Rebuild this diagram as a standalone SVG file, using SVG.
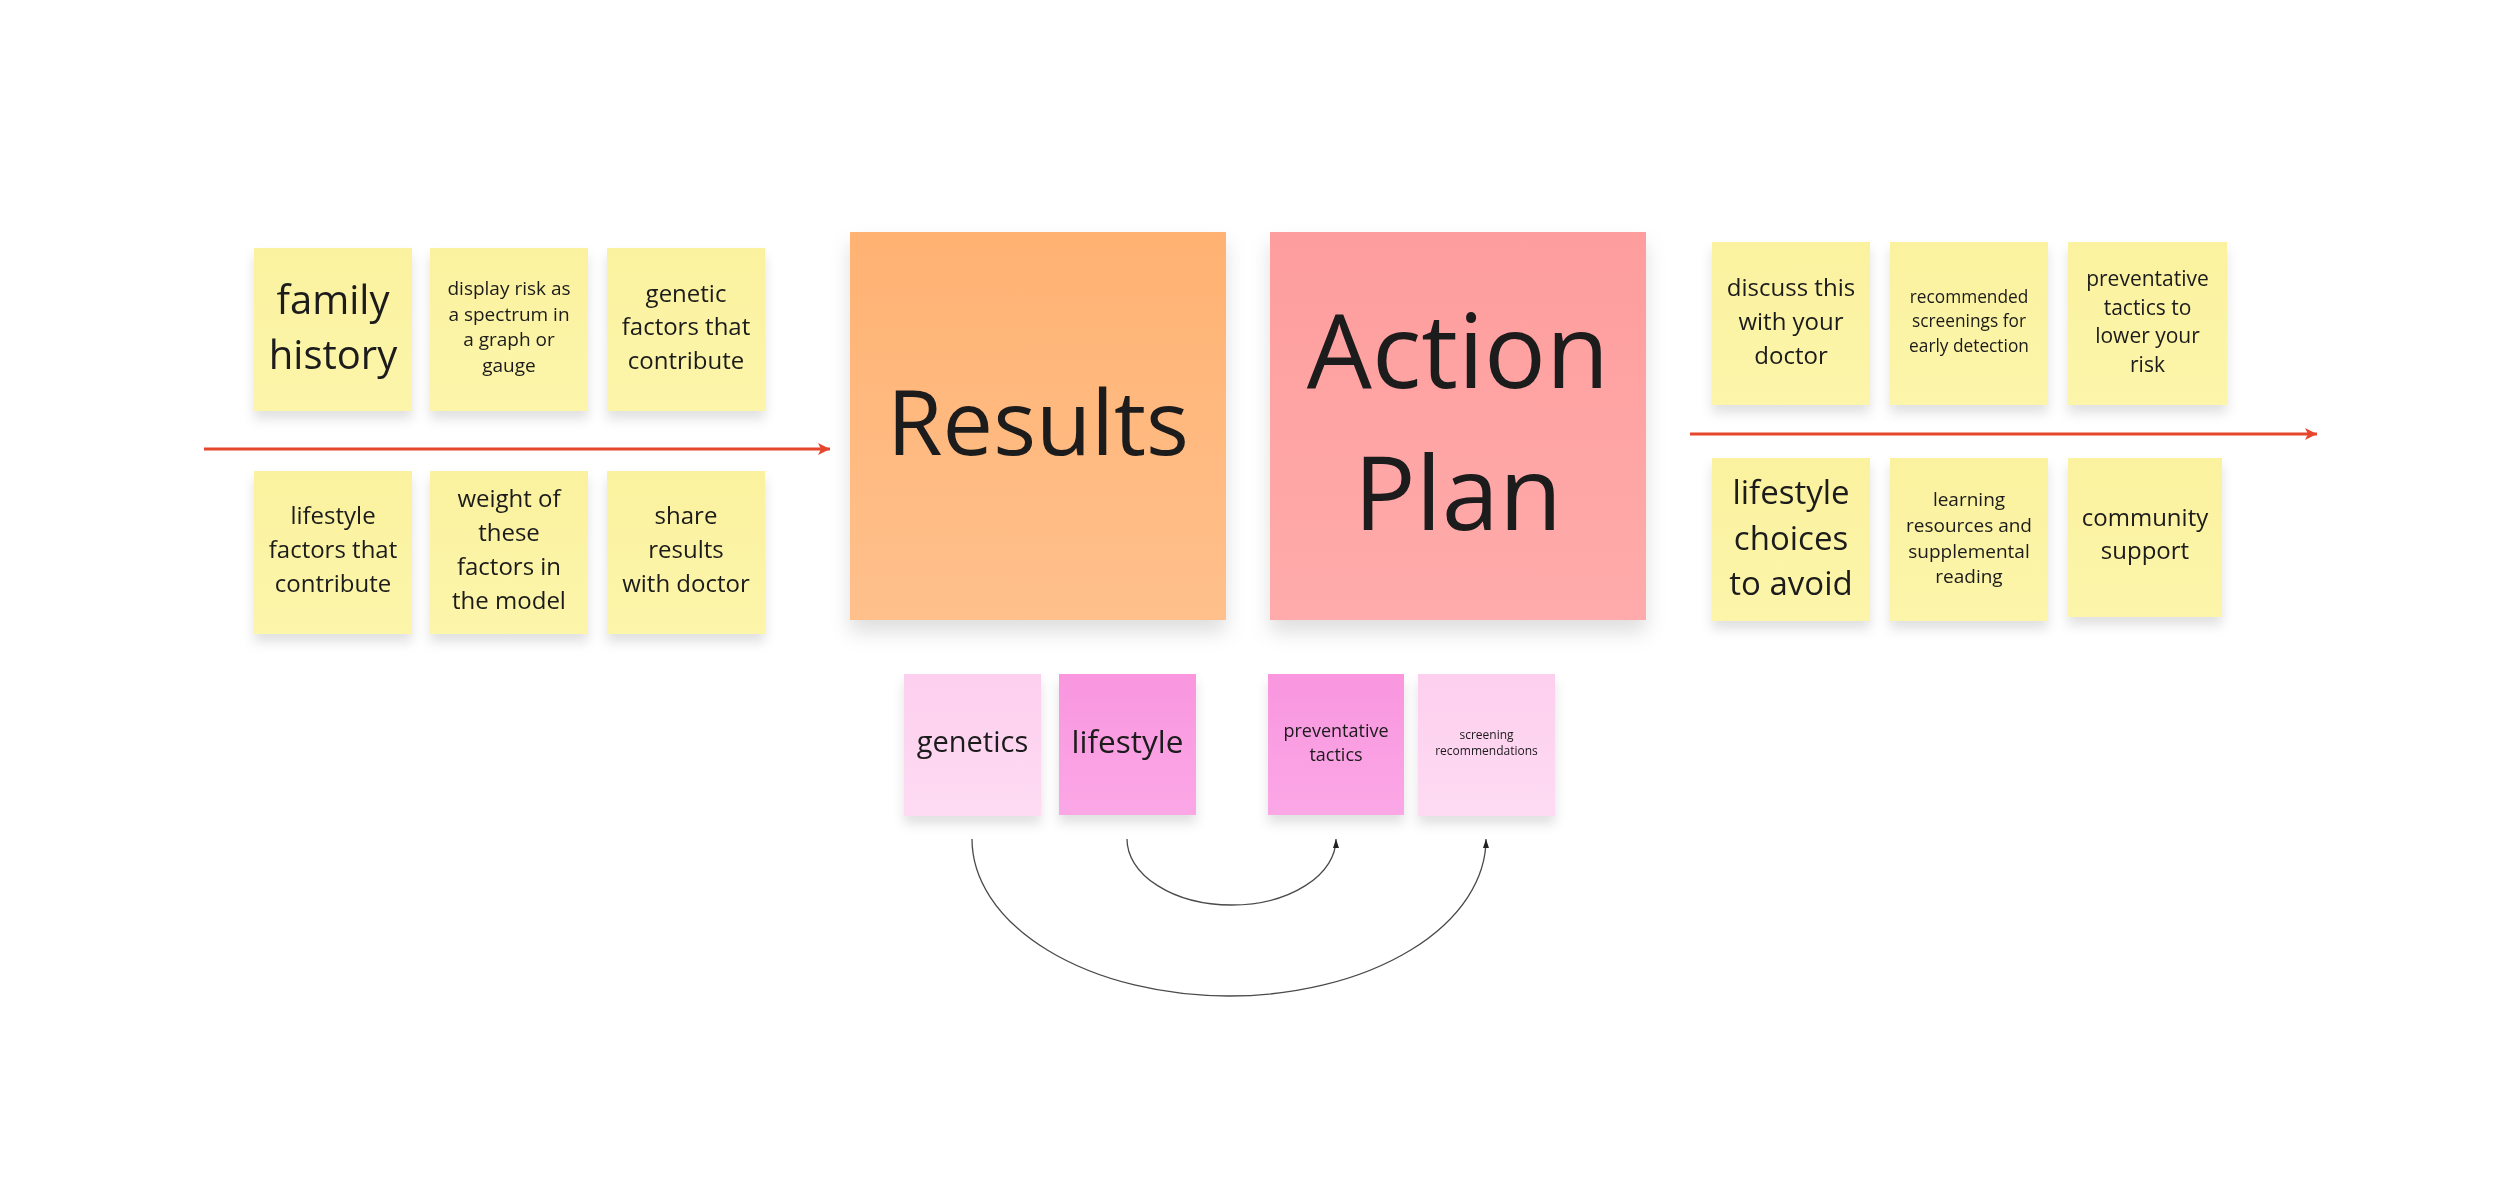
<svg xmlns="http://www.w3.org/2000/svg" width="2500" height="1204" viewBox="0 0 2500 1204">
  <defs>
    <style>
      text { font-family: "Open Sans", "Liberation Sans", sans-serif; fill: #1a1a1a; text-anchor: middle; }
      .red { stroke: #e5462c; stroke-width: 2.8; fill: none; }
      .curve { stroke: #4a4a4a; stroke-width: 1.3; fill: none; }
      .sticky { filter: url(#sh); }
      .big { filter: url(#shBig); }
    </style>
    <linearGradient id="gY" x1="0" y1="0" x2="0" y2="1">
      <stop offset="0" stop-color="#fbf29f"/>
      <stop offset="1" stop-color="#fcf5aa"/>
    </linearGradient>
    <linearGradient id="gO" x1="0" y1="0" x2="0" y2="1">
      <stop offset="0" stop-color="#ffb272"/>
      <stop offset="1" stop-color="#ffc08c"/>
    </linearGradient>
    <linearGradient id="gR" x1="0" y1="0" x2="0" y2="1">
      <stop offset="0" stop-color="#fe9d9d"/>
      <stop offset="1" stop-color="#ffabab"/>
    </linearGradient>
    <linearGradient id="gPL" x1="0" y1="0" x2="0" y2="1">
      <stop offset="0" stop-color="#fdcfee"/>
      <stop offset="1" stop-color="#fedbf3"/>
    </linearGradient>
    <linearGradient id="gPS" x1="0" y1="0" x2="0" y2="1">
      <stop offset="0" stop-color="#f996df"/>
      <stop offset="1" stop-color="#fba7e6"/>
    </linearGradient>
    <filter id="sh" x="-20%" y="-20%" width="140%" height="150%">
      <feDropShadow dx="0" dy="8" stdDeviation="6" flood-color="#000" flood-opacity="0.12"/>
    </filter>
    <filter id="shBig" x="-20%" y="-20%" width="140%" height="150%">
      <feDropShadow dx="0" dy="12" stdDeviation="10" flood-color="#000" flood-opacity="0.13"/>
    </filter>
    <marker id="mRed" markerUnits="userSpaceOnUse" viewBox="0 0 12 12" markerWidth="12" markerHeight="12" refX="12" refY="6" orient="auto">
      <path d="M0,0 L12,6 L0,12 L3,6 z" fill="#e5462c"/>
    </marker>
    <marker id="mBlk" markerUnits="userSpaceOnUse" viewBox="0 0 9 6" markerWidth="9" markerHeight="6" refX="9" refY="3" orient="auto">
      <path d="M0,0 L9,3 L0,6 z" fill="#222"/>
    </marker>
  </defs>
  <rect width="2500" height="1204" fill="#ffffff"/>

  <g id="connectors">
    <path class="red" d="M204,449 L830,449" marker-end="url(#mRed)"/>
    <path class="red" d="M1690,434 L2317,434" marker-end="url(#mRed)"/>
    <path class="curve" d="M1127,839 A104.5,66 0 0 0 1336,839" marker-end="url(#mBlk)"/>
    <path class="curve" d="M972,839 A257,157 0 0 0 1486,839" marker-end="url(#mBlk)"/>
  </g>

  <!-- Left group -->
  <g id="family-history" class="sticky">
    <rect x="254" y="248" width="158" height="163" fill="url(#gY)"/>
    <text font-size="40"><tspan x="333" y="314">family</tspan><tspan x="333" y="369">history</tspan></text>
  </g>
  <g id="display-risk" class="sticky">
    <rect x="430" y="248" width="158" height="163" fill="url(#gY)"/>
    <text font-size="19"><tspan x="509" y="295">display risk as</tspan><tspan x="509" y="320.5">a spectrum in</tspan><tspan x="509" y="346">a graph or</tspan><tspan x="509" y="371.5">gauge</tspan></text>
  </g>
  <g id="genetic-factors" class="sticky">
    <rect x="607" y="248" width="158" height="163" fill="url(#gY)"/>
    <text font-size="24"><tspan x="686" y="301.5">genetic</tspan><tspan x="686" y="335">factors that</tspan><tspan x="686" y="368.5">contribute</tspan></text>
  </g>
  <g id="lifestyle-factors" class="sticky">
    <rect x="254" y="471" width="158" height="163" fill="url(#gY)"/>
    <text font-size="24"><tspan x="333" y="524">lifestyle</tspan><tspan x="333" y="558">factors that</tspan><tspan x="333" y="591.5">contribute</tspan></text>
  </g>
  <g id="weight-factors" class="sticky">
    <rect x="430" y="471" width="158" height="163" fill="url(#gY)"/>
    <text font-size="24"><tspan x="509" y="507">weight of</tspan><tspan x="509" y="541">these</tspan><tspan x="509" y="575">factors in</tspan><tspan x="509" y="609">the model</tspan></text>
  </g>
  <g id="share-results" class="sticky">
    <rect x="607" y="471" width="158" height="163" fill="url(#gY)"/>
    <text font-size="24"><tspan x="686" y="524">share</tspan><tspan x="686" y="558">results</tspan><tspan x="686" y="591.5">with doctor</tspan></text>
  </g>

  <!-- Big stickies -->
  <g id="results" class="big">
    <rect x="850" y="232" width="376" height="388" fill="url(#gO)"/>
    <text font-size="90" x="1038" y="455">Results</text>
  </g>
  <g id="action-plan" class="big">
    <rect x="1270" y="232" width="376" height="388" fill="url(#gR)"/>
    <text font-size="103"><tspan x="1458" y="388">Action</tspan><tspan x="1458" y="530">Plan</tspan></text>
  </g>

  <!-- Right group -->
  <g id="discuss-doctor" class="sticky">
    <rect x="1712" y="242" width="158" height="163" fill="url(#gY)"/>
    <text font-size="24"><tspan x="1791" y="296">discuss this</tspan><tspan x="1791" y="330">with your</tspan><tspan x="1791" y="364">doctor</tspan></text>
  </g>
  <g id="recommended-screenings" class="sticky">
    <rect x="1890" y="242" width="158" height="163" fill="url(#gY)"/>
    <text font-size="17.3"><tspan x="1969" y="302.5">recommended</tspan><tspan x="1969" y="327">screenings for</tspan><tspan x="1969" y="351.5">early detection</tspan></text>
  </g>
  <g id="preventative-risk" class="sticky">
    <rect x="2068" y="242" width="159" height="163" fill="url(#gY)"/>
    <text font-size="21"><tspan x="2147.5" y="286">preventative</tspan><tspan x="2147.5" y="314.5">tactics to</tspan><tspan x="2147.5" y="343">lower your</tspan><tspan x="2147.5" y="371.5">risk</tspan></text>
  </g>
  <g id="lifestyle-choices" class="sticky">
    <rect x="1712" y="458" width="158" height="163" fill="url(#gY)"/>
    <text font-size="33"><tspan x="1791" y="504">lifestyle</tspan><tspan x="1791" y="549.5">choices</tspan><tspan x="1791" y="595">to avoid</tspan></text>
  </g>
  <g id="learning-resources" class="sticky">
    <rect x="1890" y="458" width="158" height="163" fill="url(#gY)"/>
    <text font-size="19"><tspan x="1969" y="506">learning</tspan><tspan x="1969" y="532">resources and</tspan><tspan x="1969" y="557.5">supplemental</tspan><tspan x="1969" y="583">reading</tspan></text>
  </g>
  <g id="community-support" class="sticky">
    <rect x="2068" y="458" width="154" height="159" fill="url(#gY)"/>
    <text font-size="24"><tspan x="2145" y="526">community</tspan><tspan x="2145" y="559">support</tspan></text>
  </g>

  <!-- Pink stickies -->
  <g id="genetics" class="sticky">
    <rect x="904" y="674" width="137" height="142" fill="url(#gPL)"/>
    <text font-size="29" x="972.5" y="752">genetics</text>
  </g>
  <g id="lifestyle" class="sticky">
    <rect x="1059" y="674" width="137" height="141" fill="url(#gPS)"/>
    <text font-size="31.5" x="1127.5" y="753">lifestyle</text>
  </g>
  <g id="preventative-tactics" class="sticky">
    <rect x="1268" y="674" width="136" height="141" fill="url(#gPS)"/>
    <text font-size="18"><tspan x="1336" y="737">preventative</tspan><tspan x="1336" y="761">tactics</tspan></text>
  </g>
  <g id="screening-recommendations" class="sticky">
    <rect x="1418" y="674" width="137" height="142" fill="url(#gPL)"/>
    <text font-size="12"><tspan x="1486.5" y="738.5">screening</tspan><tspan x="1486.5" y="754.5">recommendations</tspan></text>
  </g>
</svg>
